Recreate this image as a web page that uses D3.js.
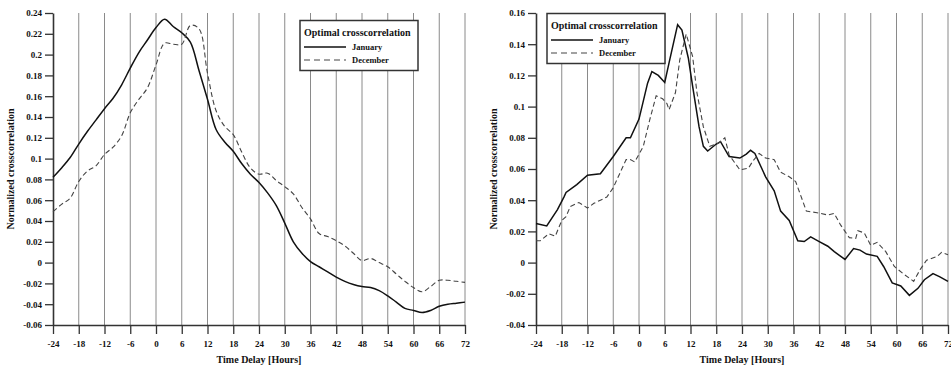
<!DOCTYPE html>
<html>
<head>
<meta charset="utf-8">
<script src="https://cdn.jsdelivr.net/npm/d3@7"></script>
<style>
  body { margin: 0; background: #fff; }
  text { font-family: "Liberation Serif", "Times New Roman", serif; font-weight: bold; fill: #111; }
</style>
</head>
<body>
<div class="svg"></div>
<script>
// ticks and labels
var hourTicks = [-24, -18, -12, -6, 0, 6, 12, 18, 24, 30, 36, 42, 48, 54, 60, 66, 72];
var leftYTicks = [-0.06, -0.04, -0.02, 0, 0.02, 0.04, 0.06, 0.08, 0.1, 0.12, 0.14, 0.16, 0.18, 0.2, 0.22, 0.24];
var rightYTicks = [-0.04, -0.02, 0, 0.02, 0.04, 0.06, 0.08, 0.1, 0.12, 0.14, 0.16];
var seriesNames = ['January', 'December'];
var legendTitle = 'Optimal crosscorrelation';
var xTitle = 'Time Delay [Hours]';
var yTitle = 'Normalized crosscorrelation';

// left panel (read every 2 hours)
var leftHours = [-24, -22, -20, -18, -16, -14, -12, -10, -8, -6, -4, -2, 0, 2, 4, 6, 8, 10, 12, 14, 16, 18, 20, 22, 24,
  26, 28, 30, 32, 34, 36, 38, 40, 42, 44, 46, 48, 50, 52, 54, 56, 58, 60, 62, 64, 66, 68, 70, 72];
var leftJanuary = [0.082, 0.091, 0.101, 0.114, 0.126, 0.137, 0.148, 0.158, 0.171, 0.187, 0.202, 0.214, 0.226, 0.234, 0.227,
  0.221, 0.212, 0.185, 0.157, 0.128, 0.116, 0.107, 0.095, 0.085, 0.077, 0.067, 0.055, 0.038, 0.020, 0.009, 0.001,
  -0.004, -0.009, -0.014, -0.018, -0.021, -0.023, -0.024, -0.027, -0.032, -0.038, -0.044, -0.046, -0.048, -0.046,
  -0.042, -0.040, -0.039, -0.038];
var leftDecember = [0.049, 0.056, 0.062, 0.078, 0.088, 0.093, 0.104, 0.111, 0.122, 0.144, 0.157, 0.168, 0.190, 0.211, 0.210,
  0.210, 0.228, 0.225, 0.182, 0.146, 0.131, 0.123, 0.106, 0.091, 0.085, 0.086, 0.079, 0.073, 0.066, 0.053, 0.042,
  0.028, 0.025, 0.021, 0.016, 0.009, 0.002, 0.004, 0.000, -0.004, -0.011, -0.018, -0.024, -0.028, -0.023,
  -0.017, -0.017, -0.018, -0.019];

// right panel (jagged, read at its corners)
var rightJanHours = [-24, -21.5, -19, -17.5, -17, -14.5, -12, -9, -6, -3, -2, 0, 2, 3, 4.5, 6, 7, 9, 10, 11.5, 12.5, 14, 15,
  16, 18, 19, 21, 23.5, 25, 26, 27, 29.5, 31.5, 33, 35, 37, 38.5, 40, 42, 44, 45.5, 48, 50, 51.5, 53, 55.5, 57, 59,
  61, 63, 65, 66.5, 68.5, 70, 72];
var rightJanuary = [0.025, 0.0235, 0.034, 0.042, 0.045, 0.050, 0.056, 0.057, 0.068, 0.080, 0.080, 0.092, 0.115, 0.1225,
  0.120, 0.1155, 0.128, 0.1525, 0.149, 0.131, 0.113, 0.087, 0.0745, 0.0715, 0.076, 0.0775, 0.068, 0.067, 0.0695,
  0.072, 0.070, 0.055, 0.046, 0.033, 0.027, 0.014, 0.0135, 0.0165, 0.0135, 0.0105, 0.007, 0.002, 0.009, 0.008,
  0.0055, 0.004, -0.0025, -0.013, -0.015, -0.021, -0.0165, -0.011, -0.007, -0.009, -0.012];
var rightDecHours = [-24, -23, -21, -19.5, -18, -17, -16, -14, -12, -10.5, -9, -7.5, -6, -4.5, -3, -2, -1, 1, 2.5, 4, 5.5,
  6.5, 7, 8.5, 9.5, 11, 12.5, 13.5, 15, 16.5, 18.5, 20, 21, 23.5, 25.5, 26.5, 28, 29.5, 31.5, 33, 35, 36.5, 39, 41.5,
  44, 45.5, 47, 49, 50.5, 51, 52.5, 54, 55.5, 57.5, 59.5, 61.5, 64, 65.5, 67, 69.5, 70.5, 72];
var rightDecember = [0.014, 0.014, 0.0185, 0.017, 0.027, 0.0295, 0.036, 0.0385, 0.035, 0.038, 0.040, 0.042, 0.048, 0.057,
  0.066, 0.066, 0.0645, 0.0745, 0.0915, 0.107, 0.105, 0.102, 0.098, 0.109, 0.130, 0.1465, 0.132, 0.109, 0.087,
  0.0745, 0.0765, 0.080, 0.069, 0.0595, 0.0605, 0.065, 0.070, 0.067, 0.066, 0.058, 0.055, 0.052, 0.033, 0.032,
  0.0305, 0.0315, 0.024, 0.016, 0.0155, 0.0205, 0.019, 0.011, 0.013, 0.007, -0.0025, -0.007, -0.012, -0.0045,
  0.0015, 0.004, 0.0065, 0.005];

var svg = d3.select('div.svg')
  .append('svg')
  .attr('width', 951)
  .attr('height', 369);

function crossPlot(settings) {
  Object.assign(this, crossPlot.defaults, settings);
  this.draw();
}

crossPlot.defaults = {
  left: 53,
  right: 465,
  top: 13,
  bottom: 325,
  curve: d3.curveLinear
};

crossPlot.prototype.draw = function () {
  var _self = this;
  var x = d3.scaleLinear().domain([-24, 72]).range([this.left, this.right]);
  var y = d3.scaleLinear().domain(d3.extent(this.yTicks)).range([this.bottom, this.top]);
  var fmt = function (d) { return String(+d.toFixed(2)) };
  var g = svg.append('g');

  // vertical grid
  g.selectAll('line.grid')
    .data(hourTicks.slice(1))
    .enter()
    .append('line')
    .attr('x1', function (d) { return x(d) })
    .attr('x2', function (d) { return x(d) })
    .attr('y1', this.top)
    .attr('y2', this.bottom)
    .style('stroke', '#8a8a8a')
    .style('stroke-width', 1);

  var yAxis = g.append('g')
    .attr('transform', 'translate(' + this.left + ',0)')
    .call(d3.axisLeft(y).tickValues(this.yTicks).tickFormat(fmt).tickSize(8).tickSizeOuter(0).tickPadding(3));
  var xAxis = g.append('g')
    .attr('transform', 'translate(0,' + this.bottom + ')')
    .call(d3.axisBottom(x).tickValues(hourTicks).tickFormat(fmt).tickSize(9).tickSizeOuter(0).tickPadding(7));
  [yAxis, xAxis].forEach(function (a) {
    a.selectAll('text').style('font-size', '9px').style('font-family', null);
    a.selectAll('line').style('stroke', '#333').style('stroke-width', 1.3);
    a.select('.domain').style('stroke', '#333').style('stroke-width', 1.6);
  });

  // axis titles
  g.append('text')
    .attr('x', (this.left + this.right) / 2)
    .attr('y', 363)
    .attr('text-anchor', 'middle')
    .style('font-size', '10px')
    .text(xTitle);
  g.append('text')
    .attr('transform', 'translate(' + (this.left - 39) + ',' + (this.top + this.bottom) / 2 + ') rotate(-90)')
    .attr('text-anchor', 'middle')
    .style('font-size', '10px')
    .text(yTitle);

  // curves
  var line = d3.line()
    .x(function (d) { return x(d[0]) })
    .y(function (d) { return y(d[1]) })
    .curve(this.curve);
  g.append('path')
    .datum(d3.zip(this.janHours, this.january))
    .attr('d', line)
    .style('fill', 'none')
    .style('stroke', '#111')
    .style('stroke-width', 1.5);
  g.append('path')
    .datum(d3.zip(this.decHours, this.december))
    .attr('d', line)
    .style('fill', 'none')
    .style('stroke', '#444')
    .style('stroke-width', 1.1)
    .style('stroke-dasharray', '5,3');

  // legend
  var lg = g.append('g').attr('transform', 'translate(' + this.legendX + ',' + this.legendY + ')');
  lg.append('rect')
    .attr('width', 118)
    .attr('height', 50)
    .style('fill', '#fff')
    .style('stroke', '#333')
    .style('stroke-width', 1.5);
  lg.append('text').attr('x', 4).attr('y', 15).style('font-size', '10px').text(legendTitle);
  seriesNames.forEach(function (name, i) {
    var ly = 26.5 + i * 13;
    lg.append('line')
      .attr('x1', 4).attr('x2', 46)
      .attr('y1', ly).attr('y2', ly)
      .style('stroke', i ? '#444' : '#111')
      .style('stroke-width', i ? 1.1 : 1.4)
      .style('stroke-dasharray', i ? '6,4' : null);
    lg.append('text').attr('x', 52).attr('y', ly + 3).style('font-size', '8.5px').text(name);
  });
};

var leftPlot = new crossPlot({
  yTicks: leftYTicks,
  janHours: leftHours, january: leftJanuary,
  decHours: leftHours, december: leftDecember,
  curve: d3.curveCatmullRom,
  legendX: 300, legendY: 20.5
});

var rightPlot = new crossPlot({
  left: 536,
  right: 948,
  yTicks: rightYTicks,
  janHours: rightJanHours, january: rightJanuary,
  decHours: rightDecHours, december: rightDecember,
  legendX: 547, legendY: 13.5
});
</script>
</body>
</html>
